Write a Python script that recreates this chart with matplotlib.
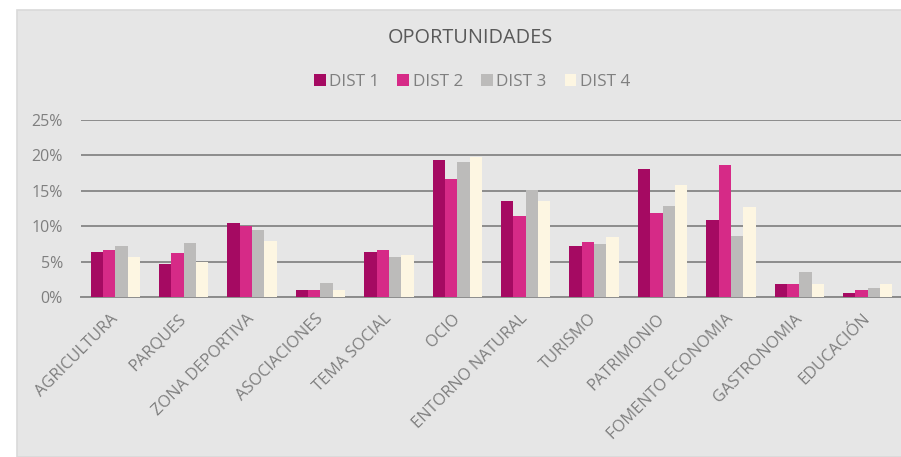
import numpy as np
import matplotlib.pyplot as plt
from matplotlib.patches import Rectangle

categorias = ['AGRICULTURA', 'PARQUES', 'ZONA DEPORTIVA', 'ASOCIACIONES', 'TEMA SOCIAL', 'OCIO',
              'ENTORNO NATURAL', 'TURISMO', 'PATRIMONIO', 'FOMENTO ECONOMIA', 'GASTRONOMIA', 'EDUCACIÓN']
dist1 = [6.4, 4.6, 10.4, 0.95, 6.4, 19.4, 13.6, 7.2, 18.1, 10.9, 1.8, 0.5]
dist2 = [6.7, 6.2, 10.0, 0.95, 6.7, 16.7, 11.4, 7.7, 11.9, 18.6, 1.9, 0.95]
dist3 = [7.2, 7.6, 9.5, 2.0, 5.6, 19.0, 15.1, 7.55, 12.9, 8.6, 3.6, 1.3]
dist4 = [5.6, 5.0, 7.9, 0.95, 6.0, 19.8, 13.6, 8.5, 15.8, 12.7, 1.9, 1.9]
series = ['DIST 1', 'DIST 2', 'DIST 3', 'DIST 4']
colores = ['#a50a62', '#d62a87', '#bcbbba', '#fdf6e2']
yticks = [0, 5, 10, 15, 20, 25]

plt.rcParams['font.family'] = ['Open Sans', 'DejaVu Sans']

fig = plt.figure(figsize=(9.01, 4.57), dpi=100)
fig.patch.set_facecolor('white')
# fondo gris del grafico (detras de los ejes)
fondo = Rectangle((17/901, 0), 1, 1 - 10/457, transform=fig.transFigure,
                  facecolor='#e6e6e6', edgecolor='#d9d9d9', linewidth=1.2, zorder=-10)
fig.patches.append(fondo)

ax = fig.add_axes([81/901, 1 - 297/457, 821/901, 177/457])
ax.set_facecolor('none')

x = np.arange(len(categorias))
ancho = 0.18
for i, (datos, nombre, col) in enumerate(zip([dist1, dist2, dist3, dist4], series, colores)):
    ax.bar(x + (i - 1.5) * ancho, datos, width=ancho, color=col, label=nombre,
           linewidth=0, zorder=3)

ax.set_xlim(-0.5, len(categorias) - 0.5)
ax.set_ylim(0, 25)
ax.set_yticks(yticks)
ax.set_yticklabels([f'{v}%' for v in yticks])
ax.grid(axis='y', color='#8c8c8c', linewidth=1.4, zorder=1)
ax.set_axisbelow(True)
for s in ['top', 'right', 'left']:
    ax.spines[s].set_visible(False)
ax.spines['bottom'].set_color('#8c8c8c')
ax.spines['bottom'].set_linewidth(1.4)
ax.tick_params(axis='y', length=0, pad=13, labelsize=11.5, labelcolor='#7f7f7f')
ax.tick_params(axis='x', length=0, pad=14, labelsize=11.8, labelcolor='#7f7f7f')
ax.set_xticks(x)
ax.set_xticklabels(categorias, rotation=45, ha='right', va='center', rotation_mode='anchor')

fig.text(470/901, 1 - 38/457, 'OPORTUNIDADES', ha='center', va='center', fontsize=14.3, color='#595959')
fig.legend(loc='center', bbox_to_anchor=(472/901, 1 - 82/457), ncol=4, frameon=False,
           fontsize=12.3, labelcolor='#7f7f7f', handlelength=0.7, handleheight=0.7,
           handletextpad=0.2, columnspacing=1.05)

fig.savefig('out.png', dpi=100)
